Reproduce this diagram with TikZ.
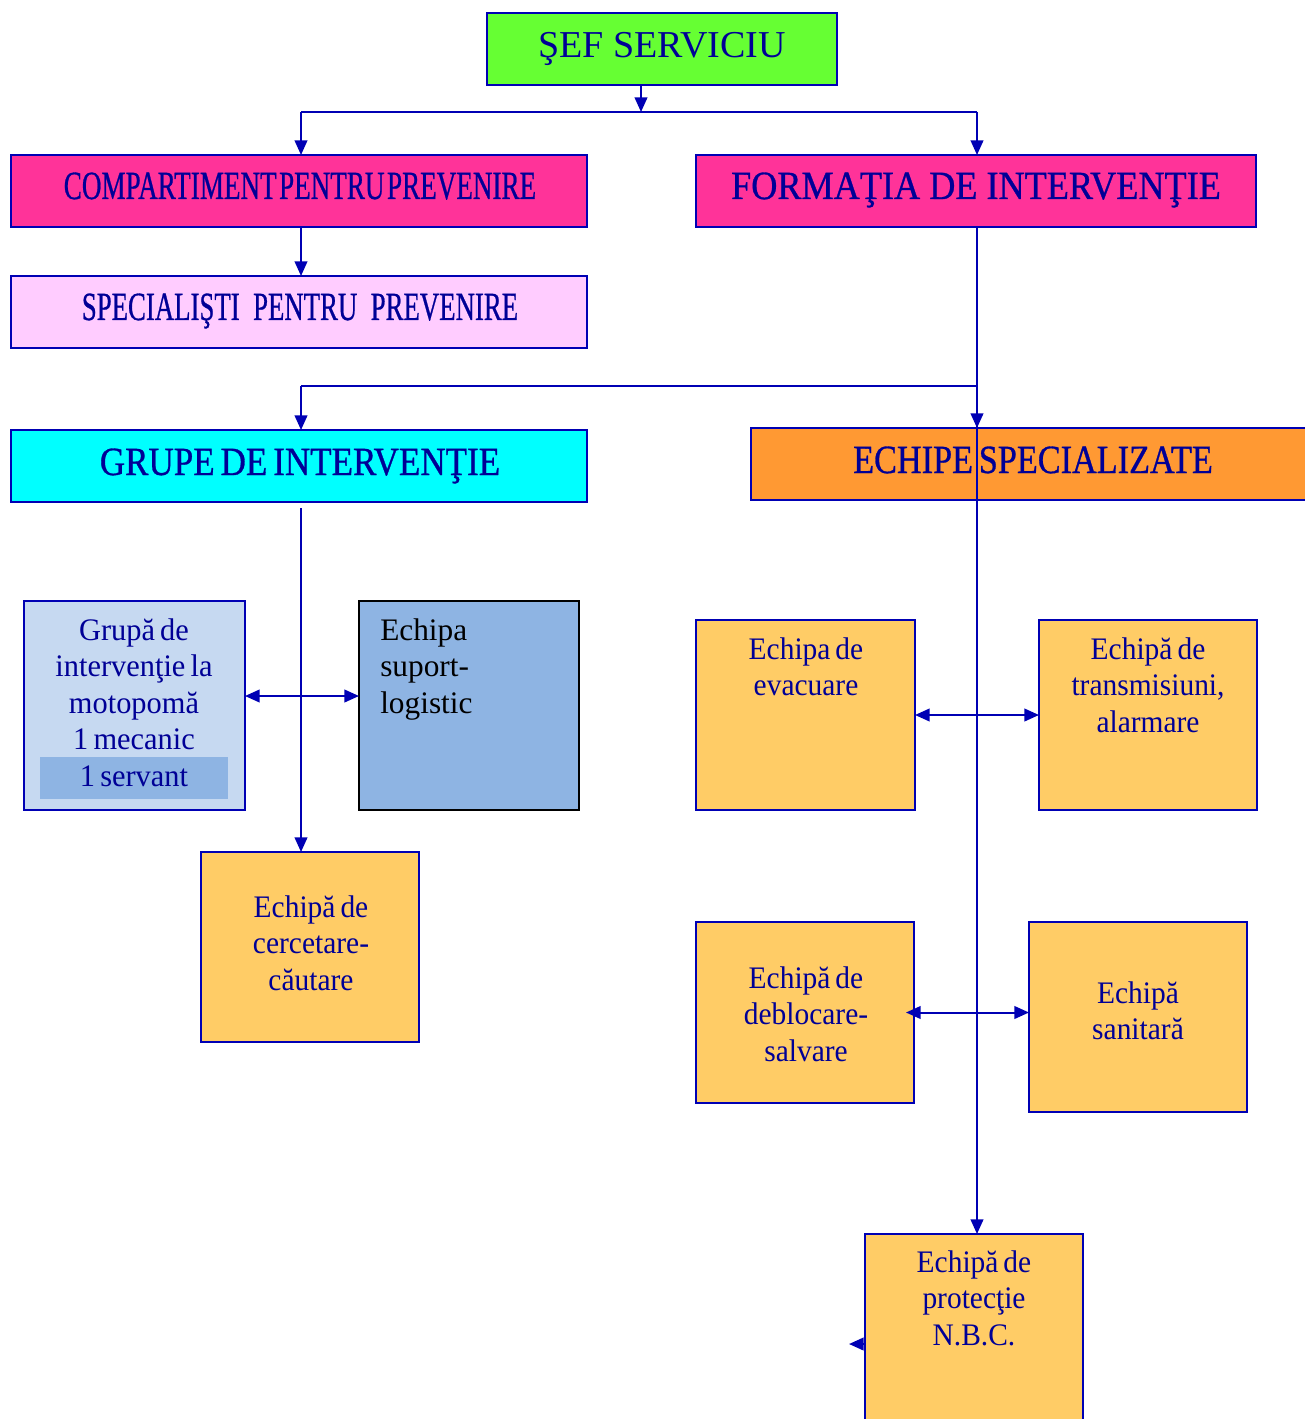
\documentclass[tikz,border=0pt]{standalone}
\usepackage{fontspec}
\newfontfamily\tnr{Liberation Serif}
\newfontfamily\tnrh{Liberation Serif}[FakeBold=0.8]
\usepackage{graphicx}
\usetikzlibrary{arrows.meta}
\definecolor{lineblue}{RGB}{0,0,180}
\definecolor{txtblue}{RGB}{0,0,150}
\definecolor{cgreen}{HTML}{66FF33}
\definecolor{cpink}{HTML}{FF3399}
\definecolor{clpink}{HTML}{FFCCFF}
\definecolor{ccyan}{HTML}{00FFFF}
\definecolor{corange}{HTML}{FF9933}
\definecolor{clblue}{HTML}{C6D9F1}
\definecolor{cmblue}{HTML}{8EB4E3}
\definecolor{cgold}{HTML}{FFCC66}
\newcommand\tightsp{\spaceskip=0.17em plus 0.05em\relax}
\newcommand\hdsp{\spaceskip=0.09em plus 0.03em\relax}
\begin{document}
\begin{tikzpicture}[x=0.75pt,y=-0.75pt,
  box/.style 2 args={draw=lineblue, line width=1.5pt, inner sep=0pt, outer sep=0pt,
     minimum width=#1*0.75pt, minimum height=#2*0.75pt},
  hd/.style={text=txtblue, font=\tnrh\fontsize{30}{36}\selectfont, anchor=base, inner sep=0pt},
  bl/.style={text=txtblue, font=\tnr\fontsize{23.5}{27.4}\selectfont\tightsp, anchor=base, inner sep=0pt},
  ln/.style={draw=lineblue, line width=1.5pt},
  arr/.style={ln, -{Triangle[length=11pt,width=9.5pt]}},
  darr/.style={ln, {Triangle[length=11pt,width=9.5pt]}-{Triangle[length=11pt,width=9.5pt]}}]
\useasboundingbox (0,0) rectangle (1304,1419);

% boxes
\node[box={350}{72}, fill=cgreen] (sef) at (662,49) {};
\node[box={576}{72}, fill=cpink] (comp) at (299,191) {};
\node[box={560}{72}, fill=cpink] (form) at (976,191) {};
\node[box={576}{72}, fill=clpink] (spec) at (299,312) {};
\node[box={576}{72}, fill=ccyan] (grupe) at (299,466) {};
\node[box={559}{72}, fill=corange] (echipe) at (1030.5,464) {};
\node[box={221}{209}, fill=clblue] (grupa) at (134.5,705.5) {};
\node[inner sep=0pt, outer sep=0pt, minimum width=188*0.75pt, minimum height=42*0.75pt, fill=cmblue] (serv) at (134,778) {};
\node[box={220}{209}, draw=black, fill=cmblue] (suport) at (469,705.5) {};
\node[box={218}{190}, fill=cgold] (cerc) at (310,947) {};
\node[box={219}{190}, fill=cgold] (evac) at (805.5,715) {};
\node[box={218}{190}, fill=cgold] (trans) at (1148,715) {};
\node[box={218}{181}, fill=cgold] (debl) at (805,1012.5) {};
\node[box={218}{190}, fill=cgold] (sanit) at (1138,1017) {};
\node[box={218}{196}, fill=cgold] (nbc) at (974,1332) {};

% heading labels
\node[hd, font=\tnr\fontsize{28.5}{34}\selectfont] (sefl) at (662,58) {ŞEF SERVICIU};
\node[hd, font=\tnrh\fontsize{30}{36}\selectfont\hdsp] (compl) at (300,199) {\scalebox{0.678}[1]{COMPARTIMENT PENTRU PREVENIRE}};
\node[hd] (forml) at (976,199) {\scalebox{0.905}[1]{FORMAŢIA DE INTERVENŢIE}};
\node[hd] (specl) at (300,320) {\scalebox{0.67}[1]{SPECIALIŞTI\ \ PENTRU\ \ PREVENIRE}};
\node[hd, font=\tnrh\fontsize{30}{36}\selectfont\tightsp] (grupel) at (300,475) {\scalebox{0.876}[1]{GRUPE DE INTERVENŢIE}};
\node[hd, font=\tnrh\fontsize{30}{36}\selectfont\tightsp] (echipel) at (1033,473) {\scalebox{0.856}[1]{ECHIPE SPECIALIZATE}};

% box labels
\node[bl] (grupal) at (134,640) {\scalebox{0.97}[1]{\begin{tabular}[t]{@{}c@{}}Grupă de\\intervenţie la\\motopomă\\1 mecanic\\1 servant\end{tabular}}};
\node[bl, text=black, anchor=base west, font=\tnr\fontsize{23.5}{27.4}\selectfont] (suportl) at (380,640) {\begin{tabular}[t]{@{}l@{}}Echipa\\suport-\\logistic\end{tabular}};
\node[bl] (cercl) at (311,917) {\scalebox{0.94}[1]{\begin{tabular}[t]{@{}c@{}}Echipă de\\cercetare-\\căutare\end{tabular}}};
\node[bl] (evacl) at (806,659) {\scalebox{0.94}[1]{\begin{tabular}[t]{@{}c@{}}Echipa de\\evacuare\end{tabular}}};
\node[bl] (transl) at (1148,659) {\scalebox{0.94}[1]{\begin{tabular}[t]{@{}c@{}}Echipă de\\transmisiuni,\\alarmare\end{tabular}}};
\node[bl] (debll) at (806,988) {\scalebox{0.94}[1]{\begin{tabular}[t]{@{}c@{}}Echipă de\\deblocare-\\salvare\end{tabular}}};
\node[bl] (sanitl) at (1138,1003) {\scalebox{0.94}[1]{\begin{tabular}[t]{@{}c@{}}Echipă\\sanitară\end{tabular}}};
\node[bl] (nbcl) at (974,1272) {\scalebox{0.94}[1]{\begin{tabular}[t]{@{}c@{}}Echipă de\\protecţie\\N.B.C.\end{tabular}}};

% connectors
\coordinate (j0) at (641,112);
\coordinate (jl) at (301,112);
\coordinate (jr) at (977,112);
\coordinate (k) at (977,386);
\coordinate (kl) at (301,386);
\coordinate (g0) at (301,508);
\coordinate (ya) at (0,696);
\coordinate (yb) at (0,1344);
\draw[arr] (j0 |- sef.south) -- (j0);
\draw[ln] (jl) -- (jr);
\draw[arr] (jl) -- (jl |- comp.north);
\draw[arr] (jr) -- (jr |- form.north);
\draw[arr] (jl |- comp.south) -- (jl |- spec.north);
\draw[ln] (k) -- (kl);
\draw[arr] (kl) -- (kl |- grupe.north);
\draw[arr] (jr |- form.south) -- (jr |- echipe.north);
\draw[arr] (jr |- form.south) -- (jr |- nbc.north);
\draw[arr] (g0) -- (g0 |- cerc.north);
\draw[darr] (grupa.east |- ya) -- (suport.west |- ya);
\draw[darr] (evac.east) -- (trans.west);
\draw[darr] ([xshift=-6pt]debl.east) -- (sanit.west |- debl.east);
\draw[arr] (nbc.west |- yb) -- ++(-16,0);
\end{tikzpicture}
\end{document}
